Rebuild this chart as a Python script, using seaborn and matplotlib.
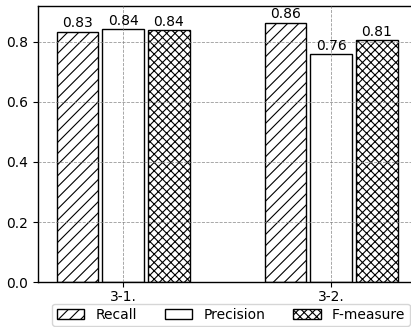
import pandas as pd
import numpy as np
import matplotlib
matplotlib.use('Agg')
import matplotlib.pyplot as plt
import seaborn as sns

# 数据
groups = ['3-1.', '3-2.']
metrics = ['Recall', 'Precision', 'F-measure']
recall = [0.834, 0.864]
precision = [0.843, 0.760]
fmeasure = [0.839, 0.807]
hatches = ['///', '', 'xxxx']

df = pd.DataFrame({
    'Group': groups * 3,
    'Metric': [m for m in metrics for _ in groups],
    'Value': recall + precision + fmeasure,
})

sns.set_style('ticks')
plt.rcParams['font.family'] = ['DejaVu Sans']
plt.rcParams['hatch.linewidth'] = 0.8
plt.rcParams['text.color'] = 'black'
plt.rcParams['xtick.color'] = 'black'
plt.rcParams['ytick.color'] = 'black'
plt.rcParams['axes.edgecolor'] = 'black'

fig = plt.figure(figsize=(4.11, 3.27), dpi=100)
ax = fig.add_axes([38 / 411, 45 / 327, 1.0, 276 / 327])

sns.barplot(data=df, x='Group', y='Value', hue='Metric', hue_order=metrics,
            width=0.66, gap=0.09, color='white', edgecolor='black',
            linewidth=1.0, saturation=1, ax=ax, legend=False)

for i, cont in enumerate(ax.containers):
    for bar in cont:
        bar.set_facecolor('white')
        bar.set_hatch(hatches[i])
    ax.bar_label(cont, fmt='%.2f', padding=1, fontsize=10, color='black')

ax.set_xlim(-0.41, 1.385 + (1.0 * 411 - 373) / 208)
ax.set_ylim(0, 0.92)
ax.set_xlabel('')
ax.set_ylabel('')
ax.set_yticks([0.0, 0.2, 0.4, 0.6, 0.8])
ax.tick_params(axis='x', pad=2)
ax.grid(True, linestyle='--', color='gray', linewidth=0.6, alpha=0.8)
ax.set_axisbelow(False)
for s in ax.spines.values():
    s.set_linewidth(1.0)

handles = [matplotlib.patches.Patch(facecolor='white', edgecolor='black',
                                    hatch=h, label=m) for h, m in zip(hatches, metrics)]
fig.legend(handles=handles, ncol=3, loc='lower center',
           bbox_to_anchor=(231 / 411, 1 / 327), fontsize=10,
           borderpad=0.3, borderaxespad=0, frameon=True, fancybox=True)

fig.savefig('out.png', dpi=100)
